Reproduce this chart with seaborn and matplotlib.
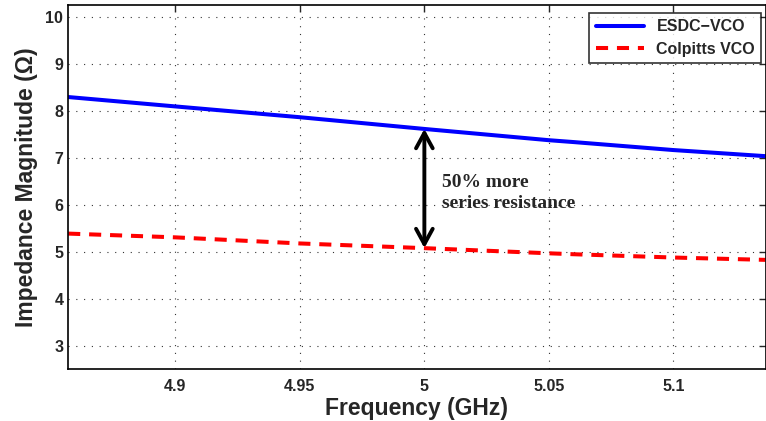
import numpy as np
import pandas as pd
import matplotlib
matplotlib.use("Agg")
from matplotlib import pyplot as plt
import seaborn as sns

# values (GHz, Ohm)
freq_ghz = [4.857, 4.90, 4.95, 5.00, 5.05, 5.06, 5.10, 5.137]
esdc_vco = [8.30, 8.10, 7.87, 7.62, 7.38, 7.34, 7.17, 7.04]
colpitts_vco = [5.39, 5.31, 5.18, 5.08, 4.97, 4.95, 4.88, 4.83]
x_ticks = [4.9, 4.95, 5.0, 5.05, 5.1]
x_tick_labels = ["4.9", "4.95", "5", "5.05", "5.1"]
y_ticks = [3, 4, 5, 6, 7, 8, 9, 10]

df = pd.DataFrame({
    "freq": freq_ghz * 2,
    "z": esdc_vco + colpitts_vco,
    "series": ["ESDC\u2212VCO"] * len(freq_ghz) + ["Colpitts VCO"] * len(freq_ghz),
})

sns.set_style("white")
plt.rcParams['font.family'] = ['Liberation Sans', 'DejaVu Sans']
plt.rcParams['font.weight'] = 'bold'

fig, ax = plt.subplots(figsize=(7.66, 4.21), dpi=100)
fig.subplots_adjust(left=0.089, right=0.9995, top=0.988, bottom=0.123)

sns.lineplot(data=df, x="freq", y="z", hue="series", style="series",
             palette={"ESDC\u2212VCO": "#0000ff", "Colpitts VCO": "#ff0000"},
             dashes={"ESDC\u2212VCO": "", "Colpitts VCO": (3, 2.2)},
             linewidth=2.9, ax=ax, legend=True)

# double arrow between the two curves at 5 GHz
ax.annotate("", xy=(5.0, esdc_vco[3]), xytext=(5.0, colpitts_vco[3]),
            arrowprops=dict(arrowstyle="<->,head_length=0.55,head_width=0.3",
                            color="black", lw=2.8, mutation_scale=20,
                            shrinkA=0, shrinkB=0))
ax.text(5.007, 6.26, "50% more\nseries resistance", family="Liberation Serif",
        fontweight="bold", fontsize=14, va="center", ha="left", linespacing=1.3)

ax.set_xlim(4.857, 5.137)
ax.set_ylim(2.5, 10.26)
ax.set_xticks(x_ticks)
ax.set_xticklabels(x_tick_labels)
ax.set_yticks(y_ticks)
ax.tick_params(direction="in", length=5, width=1, top=True, right=True,
               labelsize=11.5)
ax.tick_params(axis="x", pad=7)
ax.tick_params(axis="y", pad=3.5)
ax.grid(True, color="#333333", linestyle=(0, (1, 6)), linewidth=0.8)
for s in ax.spines.values():
    s.set_color("black")
    s.set_linewidth(1.2)

ax.set_xlabel("Frequency (GHz)", fontsize=16.5, fontweight="bold", labelpad=2)
ax.set_ylabel("Impedance Magnitude (\u03a9)", fontsize=16.5, fontweight="bold", labelpad=5)

leg = ax.legend(loc="upper right", bbox_to_anchor=(0.994, 0.978),
                fontsize=11.5, frameon=True, fancybox=False,
                edgecolor="black", handlelength=3.0, borderpad=0.4,
                labelspacing=0.45, borderaxespad=0)
leg.get_frame().set_linewidth(1.2)
for t in leg.get_texts():
    t.set_fontweight("bold")

plt.savefig("out.png", dpi=100)
